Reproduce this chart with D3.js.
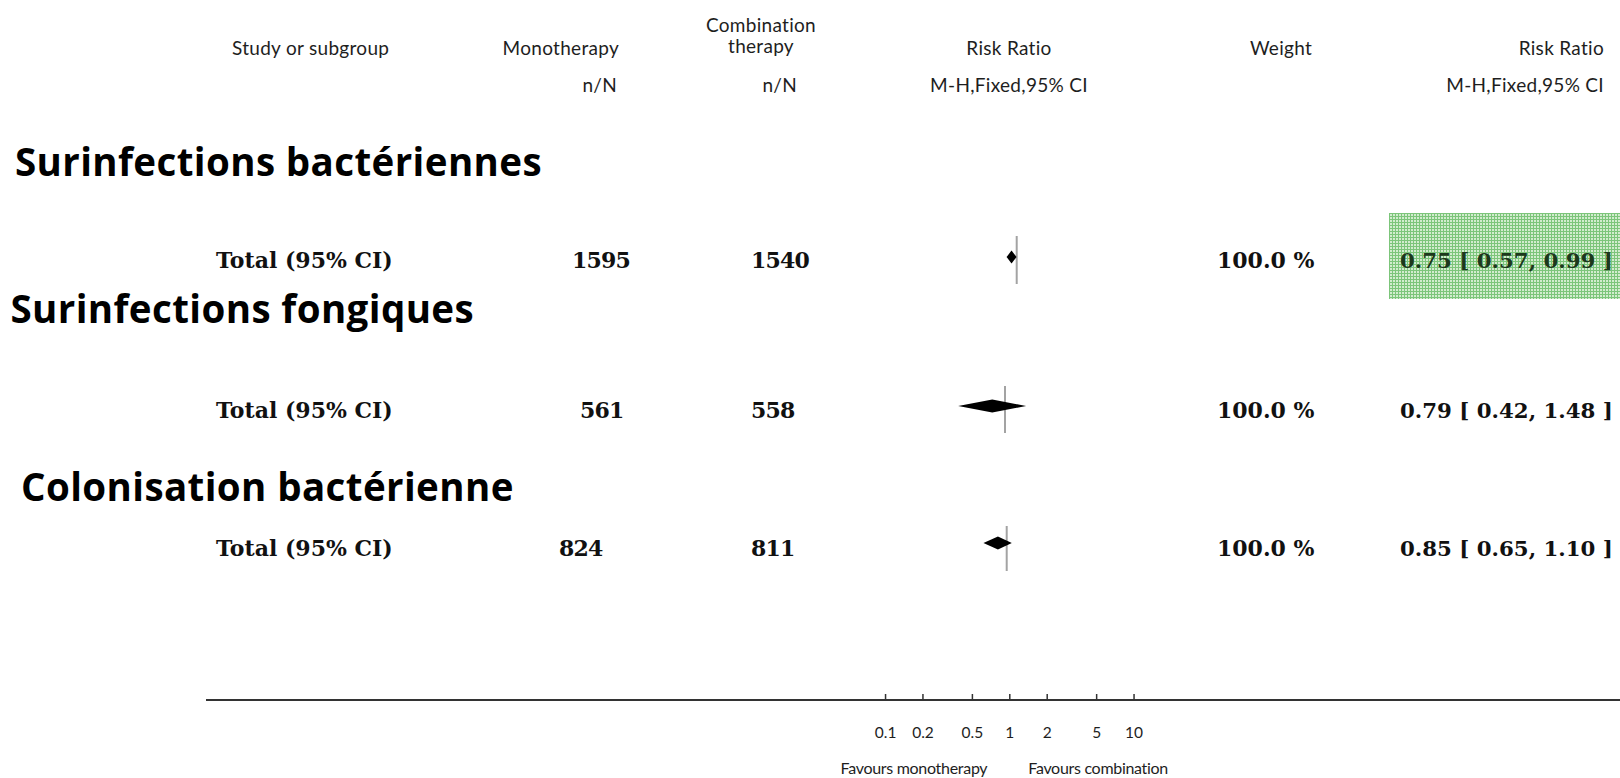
<!DOCTYPE html>
<html>
<head>
<meta charset="utf-8">
<script src="https://cdn.jsdelivr.net/npm/d3@7"></script>
<style>
  html, body { margin: 0; padding: 0; background: #ffffff; }
  svg { display: block; }
</style>
</head>
<body>
<svg id="chart" width="1620" height="778"></svg>
<script>
// ---- data -------------------------------------------------------------
const sectionTitles = ["Surinfections bactériennes", "Surinfections fongiques", "Colonisation bactérienne"];
const totalLabel = "Total (95% CI)";
const totalsMono = [1595, 561, 824];
const totalsCombo = [1540, 558, 811];
const riskRatio = [0.75, 0.79, 0.85];
const ciLow = [0.57, 0.42, 0.65];
const ciHigh = [0.99, 1.48, 1.10];
const weights = [100.0, 100.0, 100.0];
// each subgroup panel was plotted on its own log axis
const rowDomains = [[0.001, 1000], [0.1, 10], [0.1, 10]];
const axisDomain = [0.1, 10];
const axisTicks = [0.1, 0.2, 0.5, 1, 2, 5, 10];
const axisTickLabels = ["0.1", "0.2", "0.5", "1", "2", "5", "10"];
const favourLeft = "Favours monotherapy";
const favourRight = "Favours combination";

// ---- layout -----------------------------------------------------------
const axisWidth = 248.5;
const rowLayout = [
  { title: 176, titleX: 15, y: 268, diamondY: 257, lineTop: 236, lineBottom: 284, ref: 1016.7, monoX: 572, comboX: 751 },
  { title: 323, titleX: 10.5, y: 418, diamondY: 406, lineTop: 386, lineBottom: 433, ref: 1005, monoX: 580, comboX: 751 },
  { title: 501, titleX: 21, y: 556, diamondY: 543, lineTop: 526, lineBottom: 571, ref: 1006.7, monoX: 559, comboX: 751 }
];
const axisRef = 1009.3;
const axisY = 700;

const svg = d3.select("#chart");
const headFont = "Lato, 'Open Sans', sans-serif";
const serifFont = "'DejaVu Serif', serif";
const fmt2 = d3.format(".2f");
const fmt1 = d3.format(".1f");

// highlight pattern for the first pooled estimate
const defs = svg.append("defs");
const pat = defs.append("pattern")
  .attr("id", "hatch").attr("width", 3).attr("height", 3)
  .attr("patternUnits", "userSpaceOnUse");
pat.append("rect").attr("width", 3).attr("height", 3).attr("fill", "#d2ecce");
pat.append("rect").attr("width", 3).attr("height", 1).attr("fill", "#7cc57a");
pat.append("rect").attr("width", 1).attr("height", 3).attr("fill", "#7cc57a");

// ---- column headers ---------------------------------------------------
const head = svg.append("g").attr("font-family", headFont).attr("font-size", 19).attr("fill", "#1e1e1e");
const headers = [
  { t: "Study or subgroup", x: 232, y: 55, a: "start" },
  { t: "Monotherapy", x: 619, y: 55, a: "end" },
  { t: "Combination", x: 761, y: 32, a: "middle" },
  { t: "therapy", x: 761, y: 53, a: "middle" },
  { t: "n/N", x: 617, y: 92, a: "end" },
  { t: "n/N", x: 797, y: 92, a: "end" },
  { t: "Risk Ratio", x: 1009, y: 55, a: "middle" },
  { t: "M-H,Fixed,95% CI", x: 1009, y: 92, a: "middle" },
  { t: "Weight", x: 1281, y: 55, a: "middle" },
  { t: "Risk Ratio", x: 1604, y: 55, a: "end" },
  { t: "M-H,Fixed,95% CI", x: 1604, y: 92, a: "end" }
];
head.selectAll("text").data(headers).join("text")
  .attr("x", d => d.x).attr("y", d => d.y)
  .attr("text-anchor", d => d.a)
  .attr("letter-spacing", 0.3)
  .text(d => d.t);

// ---- subgroup rows ----------------------------------------------------
const rows = sectionTitles.map((title, i) => ({
  title, i,
  mono: totalsMono[i], combo: totalsCombo[i],
  rr: riskRatio[i], lo: ciLow[i], hi: ciHigh[i], w: weights[i],
  L: rowLayout[i],
  x: d3.scaleLog().domain(rowDomains[i])
        .range([rowLayout[i].ref - axisWidth / 2, rowLayout[i].ref + axisWidth / 2])
}));

// highlighted result cell
svg.append("rect")
  .attr("x", 1389).attr("y", 213).attr("width", 231).attr("height", 86)
  .attr("fill", "url(#hatch)");

const g = svg.selectAll("g.row").data(rows).join("g").attr("class", "row");

g.append("text")
  .attr("x", d => d.L.titleX).attr("y", d => d.L.title)
  .attr("font-family", "'Open Sans', sans-serif")
  .attr("font-weight", 700).attr("font-size", 38.5)
  .attr("letter-spacing", 0.4)
  .attr("fill", "#000")
  .text(d => d.title);

const rowText = g.append("g")
  .attr("font-family", serifFont).attr("font-weight", 700)
  .attr("font-size", 22);

rowText.append("text").attr("x", 216).attr("y", d => d.L.y).attr("fill", "#111").text(totalLabel);
rowText.append("text").attr("x", d => d.L.monoX).attr("y", d => d.L.y).attr("fill", "#111")
  .attr("letter-spacing", -0.8).text(d => d.mono);
rowText.append("text").attr("x", d => d.L.comboX).attr("y", d => d.L.y).attr("fill", "#111")
  .attr("letter-spacing", -0.8).text(d => d.combo);
rowText.append("text").attr("x", 1217).attr("y", d => d.L.y).attr("fill", "#111")
  .text(d => fmt1(d.w) + " %");
rowText.append("text").attr("x", 1400).attr("y", d => d.L.y)
  .attr("font-size", 21.3)
  .attr("fill", d => d.i === 0 ? "#1c381c" : "#111")
  .text(d => `${fmt2(d.rr)} [ ${fmt2(d.lo)}, ${fmt2(d.hi)} ]`);

// line of no effect
g.append("line")
  .attr("x1", d => d.x(1)).attr("x2", d => d.x(1))
  .attr("y1", d => d.L.lineTop).attr("y2", d => d.L.lineBottom)
  .attr("stroke", "#a3a3a3").attr("stroke-width", 2);

// pooled estimate diamonds
const dh = 6.5;
g.append("polygon")
  .attr("points", d => [
    [d.x(d.lo), d.L.diamondY],
    [d.x(d.rr), d.L.diamondY - dh],
    [d.x(d.hi), d.L.diamondY],
    [d.x(d.rr), d.L.diamondY + dh]
  ].map(p => p.join(",")).join(" "))
  .attr("fill", "#000");

// ---- bottom axis ------------------------------------------------------
const xAxisScale = d3.scaleLog().domain(axisDomain)
  .range([axisRef - axisWidth / 2, axisRef + axisWidth / 2]);

svg.append("line")
  .attr("x1", 206).attr("x2", 1620).attr("y1", axisY).attr("y2", axisY)
  .attr("stroke", "#333").attr("stroke-width", 2);

const axisG = svg.append("g").attr("transform", `translate(0,${axisY})`)
  .call(d3.axisBottom(xAxisScale)
    .tickValues(axisTicks)
    .tickSize(-6)
    .tickPadding(27)
    .tickFormat((d, i) => axisTickLabels[i]));
axisG.select(".domain").remove();
axisG.selectAll(".tick line").attr("stroke", "#333").attr("stroke-width", 1.5);
axisG.selectAll(".tick text")
  .attr("font-family", headFont).attr("font-size", 15.5).attr("fill", "#1e1e1e");

svg.append("text")
  .attr("x", xAxisScale(1) - 22).attr("y", 774)
  .attr("text-anchor", "end")
  .attr("font-family", headFont).attr("font-size", 16).attr("letter-spacing", -0.3)
  .attr("fill", "#1e1e1e")
  .text(favourLeft);
svg.append("text")
  .attr("x", xAxisScale(1) + 19).attr("y", 774)
  .attr("text-anchor", "start")
  .attr("font-family", headFont).attr("font-size", 16).attr("letter-spacing", -0.3)
  .attr("fill", "#1e1e1e")
  .text(favourRight);
</script>
</body>
</html>
